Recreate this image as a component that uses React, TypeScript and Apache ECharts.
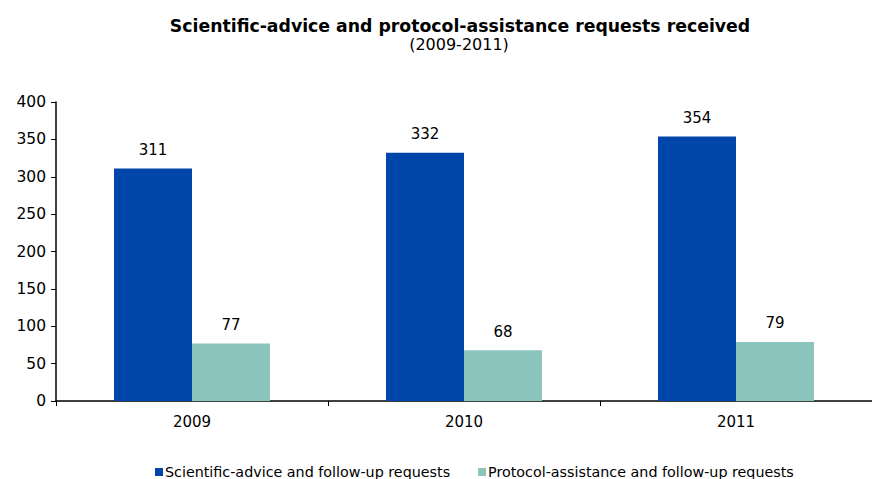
import React, { useEffect, useRef } from "react";
import * as echarts from "echarts";

const categories = ["2009", "2010", "2011"];
const scientificAdvice = [311, 332, 354];
const protocolAssistance = [77, 68, 79];
const seriesNames = ["Scientific-advice and follow-up requests", "Protocol-assistance and follow-up requests"];
const titleText = "Scientific-advice and protocol-assistance requests received";
const subtitleText = "(2009-2011)";

const FONT = "'DejaVu Sans', Verdana, sans-serif";

export default function App() {
  const ref = useRef<HTMLDivElement>(null);
  useEffect(() => {
    const chart = echarts.init(ref.current!, null, { renderer: "svg" });
    chart.setOption({
      animation: false,
      graphic: [
        {
          type: "text",
          x: 460,
          y: 26,
          style: {
            text: titleText,
            fontFamily: FONT,
            fontSize: 17.3,
            fontWeight: "bold",
            fill: "#000",
            align: "center",
            verticalAlign: "middle",
          },
        },
        {
          type: "text",
          x: 459,
          y: 44,
          style: {
            text: subtitleText,
            fontFamily: FONT,
            fontSize: 16,
            fill: "#000",
            align: "center",
            verticalAlign: "middle",
          },
        },
      ],
      legend: {
        bottom: -5,
        left: 150,
        itemWidth: 8,
        itemHeight: 8,
        itemGap: 28,
        icon: "rect",
        textStyle: { fontFamily: FONT, fontSize: 14.3, color: "#000", padding: [0, 0, 0, -3] },
        data: seriesNames,
      },
      grid: { left: 56, right: -4, top: 102, bottom: 78, containLabel: false },
      xAxis: {
        type: "category",
        data: categories,
        axisLine: { lineStyle: { color: "#000", width: 1.5 } },
        axisTick: { show: true, length: 5, lineStyle: { color: "#000" } },
        axisLabel: { fontFamily: FONT, fontSize: 15, color: "#000", margin: 13 },
      },
      yAxis: {
        type: "value",
        min: 0,
        max: 400,
        interval: 50,
        axisLine: { show: true, lineStyle: { color: "#000", width: 1.5 } },
        axisTick: { show: true, length: 5, lineStyle: { color: "#000" } },
        splitLine: { show: false },
        axisLabel: { fontFamily: FONT, fontSize: 15.5, color: "#000", margin: 10 },
      },
      series: [
        {
          name: seriesNames[0],
          type: "bar",
          data: scientificAdvice,
          barWidth: 78,
          barGap: "0%",
          itemStyle: { color: "#0046A8" },
          label: { show: true, position: "top", distance: 11, fontFamily: FONT, fontSize: 15, color: "#000" },
        },
        {
          name: seriesNames[1],
          type: "bar",
          data: protocolAssistance,
          barWidth: 78,
          barGap: "0%",
          itemStyle: { color: "#8CC5BE" },
          label: { show: true, position: "top", distance: 11, fontFamily: FONT, fontSize: 15, color: "#000" },
        },
      ],
    });
    return () => chart.dispose();
  }, []);
  return <div ref={ref} style={{ width: 872, height: 479, position: "absolute", left: 0, top: 0 }} />;
}
